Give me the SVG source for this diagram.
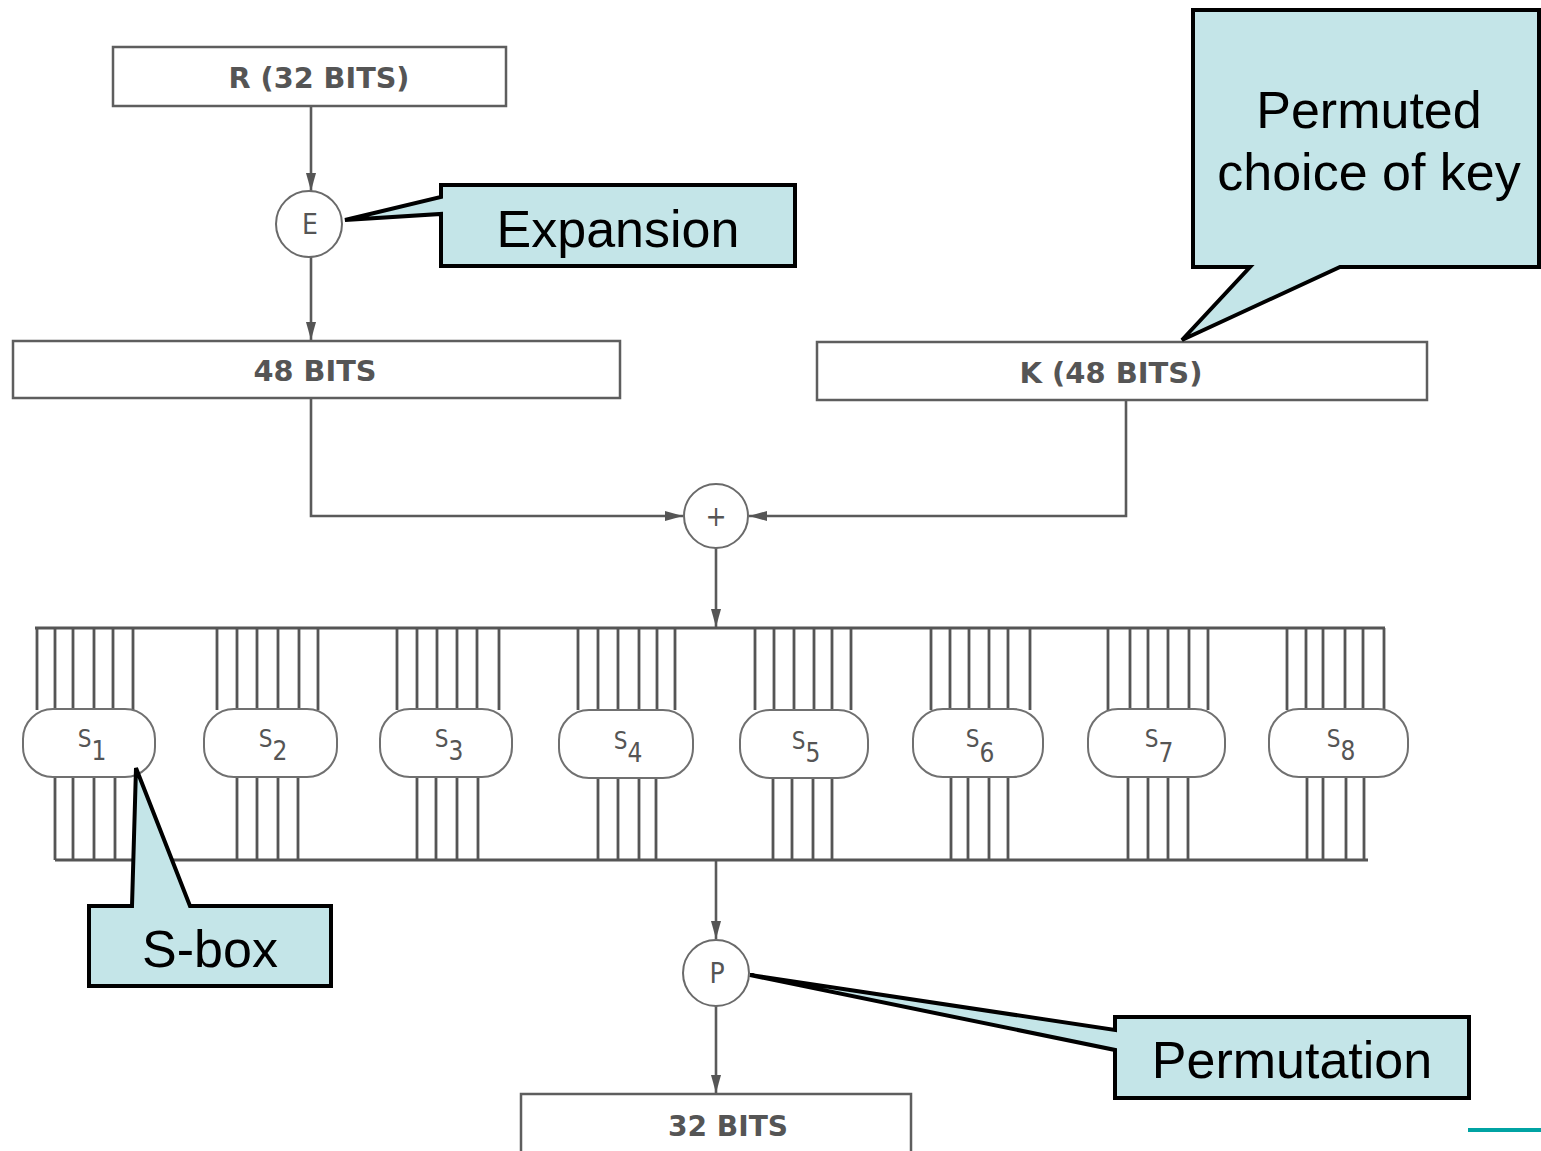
<svg xmlns="http://www.w3.org/2000/svg" width="1541" height="1151" viewBox="0 0 1541 1151">
<style>
.box{fill:#fff;stroke:#5e5e5e;stroke-width:2.5}
.btxt{font-family:"DejaVu Sans Condensed","DejaVu Sans",sans-serif;font-weight:bold;font-size:28px;fill:#555;text-anchor:middle}
.op{fill:#fff;stroke:#6a6a6a;stroke-width:2}
.otxt{font-family:"DejaVu Sans Condensed","DejaVu Sans",sans-serif;font-size:28px;fill:#555;text-anchor:middle}
.wire{stroke:#555;stroke-width:2.8;fill:none}
.conn{stroke:#5a5a5a;stroke-width:2.6;fill:none}
.sbox{fill:#fff;stroke:#707070;stroke-width:2}
.stxt{font-family:"DejaVu Sans Condensed","DejaVu Sans",sans-serif;font-size:24px;fill:#555;text-anchor:middle}
.call{fill:#C4E5E8;stroke:#000;stroke-width:4;stroke-linejoin:miter}
.ctxt{font-family:"Liberation Sans",Arial,sans-serif;font-size:52px;fill:#000;text-anchor:middle}
</style>
<defs>
<marker id="arr" viewBox="0 0 18 10" refX="18" refY="5" markerWidth="18" markerHeight="10" markerUnits="userSpaceOnUse" orient="auto">
<path d="M0,0 L18,5 L0,10 z" fill="#555"/>
</marker>
</defs>
<rect width="1541" height="1151" fill="#fff"/>

<g id="connectors">
<line class="conn" x1="311" y1="107" x2="311" y2="191" marker-end="url(#arr)"/>
<line class="conn" x1="311" y1="257" x2="311" y2="340" marker-end="url(#arr)"/>
<path class="conn" d="M311,398 V516 H683" marker-end="url(#arr)"/>
<path class="conn" d="M1126,401 V516 H749" marker-end="url(#arr)"/>
<line class="conn" x1="716" y1="548" x2="716" y2="627" marker-end="url(#arr)"/>
<line class="conn" x1="716" y1="861" x2="716" y2="939" marker-end="url(#arr)"/>
<line class="conn" x1="716" y1="1006" x2="716" y2="1093" marker-end="url(#arr)"/>
</g>

<g id="r-box"><rect class="box" x="113" y="47" width="393" height="59"/><text class="btxt" x="319" y="88" textLength="181" lengthAdjust="spacingAndGlyphs">R (32 BITS)</text></g>
<g id="e-op"><circle class="op" cx="309" cy="224" r="33"/><text class="otxt" x="310" y="234">E</text></g>
<g id="b48-box"><rect class="box" x="13" y="341" width="607" height="57"/><text class="btxt" x="315" y="381" textLength="123" lengthAdjust="spacingAndGlyphs">48 BITS</text></g>
<g id="k-box"><rect class="box" x="817" y="342" width="610" height="58"/><text class="btxt" x="1111" y="383" textLength="183" lengthAdjust="spacingAndGlyphs">K (48 BITS)</text></g>
<g id="xor-op"><circle class="op" cx="716" cy="516" r="32"/><text class="otxt" x="716" y="526">+</text></g>

<g id="sbox-frame">
<line class="wire" x1="35" y1="628" x2="1385" y2="628"/>
<line class="wire" x1="55" y1="860" x2="1368" y2="860"/>
</g>

<g id="s1">
<path class="wire" d="M37,628V710 M55,628V710 M73,628V710 M94,628V710 M113,628V710 M133,628V710 M55,776V860 M73,776V860 M94,776V860 M115,776V860"/>
<rect class="sbox" x="23" y="709" width="132" height="68" rx="30" ry="30"/>
<text class="stxt" x="92" y="747">S<tspan dy="13" font-size="26">1</tspan></text>
</g>
<g id="s2">
<path class="wire" d="M217,628V710 M237,628V710 M257,628V710 M278,628V710 M299,628V710 M318,628V710 M237,776V860 M257,776V860 M278,776V860 M298,776V860"/>
<rect class="sbox" x="204" y="709" width="133" height="68" rx="30" ry="30"/>
<text class="stxt" x="273" y="747">S<tspan dy="13" font-size="26">2</tspan></text>
</g>
<g id="s3">
<path class="wire" d="M397,628V710 M417,628V710 M437,628V710 M457,628V710 M477,628V710 M499,628V710 M417,776V860 M436,776V860 M457,776V860 M478,776V860"/>
<rect class="sbox" x="380" y="709" width="132" height="68" rx="30" ry="30"/>
<text class="stxt" x="449" y="747">S<tspan dy="13" font-size="26">3</tspan></text>
</g>
<g id="s4">
<path class="wire" d="M578,628V710 M598,628V710 M618,628V710 M639,628V710 M657,628V710 M675,628V710 M598,776V860 M618,776V860 M639,776V860 M656,776V860"/>
<rect class="sbox" x="559" y="710" width="134" height="68" rx="30" ry="30"/>
<text class="stxt" x="628" y="749">S<tspan dy="13" font-size="26">4</tspan></text>
</g>
<g id="s5">
<path class="wire" d="M755,628V710 M774,628V710 M794,628V710 M814,628V710 M832,628V710 M851,628V710 M773,776V860 M792,776V860 M813,776V860 M832,776V860"/>
<rect class="sbox" x="740" y="710" width="128" height="68" rx="30" ry="30"/>
<text class="stxt" x="806" y="749">S<tspan dy="13" font-size="26">5</tspan></text>
</g>
<g id="s6">
<path class="wire" d="M931,628V710 M950,628V710 M969,628V710 M989,628V710 M1008,628V710 M1030,628V710 M951,776V860 M968,776V860 M989,776V860 M1008,776V860"/>
<rect class="sbox" x="913" y="709" width="130" height="68" rx="30" ry="30"/>
<text class="stxt" x="980" y="747">S<tspan dy="15" font-size="26">6</tspan></text>
</g>
<g id="s7">
<path class="wire" d="M1108,628V710 M1130,628V710 M1148,628V710 M1168,628V710 M1189,628V710 M1208,628V710 M1128,776V860 M1148,776V860 M1168,776V860 M1188,776V860"/>
<rect class="sbox" x="1088" y="709" width="137" height="68" rx="30" ry="30"/>
<text class="stxt" x="1159" y="747">S<tspan dy="15" font-size="26">7</tspan></text>
</g>
<g id="s8">
<path class="wire" d="M1287,628V710 M1306,628V710 M1323,628V710 M1345,628V710 M1363,628V710 M1384,628V710 M1307,776V860 M1323,776V860 M1346,776V860 M1364,776V860"/>
<rect class="sbox" x="1269" y="709" width="139" height="68" rx="30" ry="30"/>
<text class="stxt" x="1341" y="747">S<tspan dy="13" font-size="26">8</tspan></text>
</g>

<g id="p-op"><circle class="op" cx="716" cy="973" r="33"/><text class="otxt" x="717" y="983">P</text></g>
<g id="b32-box"><rect class="box" x="521" y="1094" width="390" height="60"/><text class="btxt" x="728" y="1136" textLength="120" lengthAdjust="spacingAndGlyphs">32 BITS</text></g>

<g id="callout-expansion"><path class="call" d="M441,185 H795 V266 H441 V214 L345,220 L441,197 Z"/><text class="ctxt" x="618" y="247">Expansion</text></g>
<g id="callout-key"><path class="call" d="M1193,10 H1539 V267 H1340 L1182,340 L1250,267 H1193 Z"/><text class="ctxt" x="1369" y="128">Permuted</text><text class="ctxt" x="1369" y="190">choice of key</text></g>
<g id="callout-sbox"><path class="call" d="M89,906 H132 L136,768 L190,906 H331 V986 H89 Z"/><text class="ctxt" x="210" y="967">S-box</text></g>
<g id="callout-permutation"><path class="call" d="M1115,1017 H1469 V1098 H1115 V1050 L750,975 L1115,1030 Z"/><text class="ctxt" x="1292" y="1078">Permutation</text></g>

<line x1="1468" y1="1130" x2="1541" y2="1130" stroke="#00A3A3" stroke-width="4"/>
</svg>
